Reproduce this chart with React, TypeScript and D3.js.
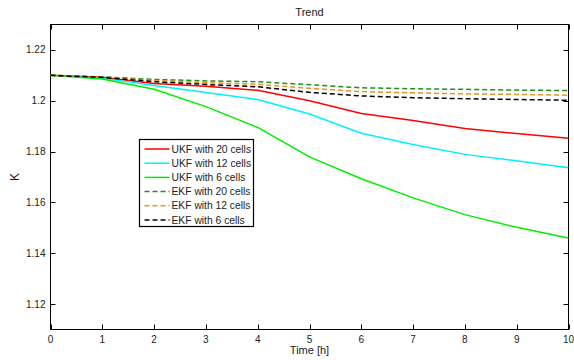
import React, { useEffect, useRef } from 'react';
import * as d3 from 'd3';

// time axis (hours)
const hours = [0, 1, 2, 3, 4, 5, 6, 7, 8, 9, 10];

// estimated K for each filter
const ukf20 = [1.21, 1.2092, 1.2068, 1.2057, 1.2041, 1.2, 1.195, 1.1922, 1.1891, 1.1871, 1.1852];
const ukf12 = [1.21, 1.2089, 1.206, 1.2032, 1.2005, 1.1948, 1.1872, 1.1828, 1.1789, 1.1764, 1.1736];
const ukf6 = [1.21, 1.2086, 1.2045, 1.1977, 1.1895, 1.1779, 1.1693, 1.1618, 1.1552, 1.1502, 1.146];
const ekf20 = [1.21, 1.2094, 1.2084, 1.2078, 1.2075, 1.2063, 1.2051, 1.2047, 1.2045, 1.2042, 1.204];
const ekf12 = [1.21, 1.2093, 1.208, 1.2071, 1.2065, 1.2049, 1.2036, 1.2031, 1.2027, 1.2025, 1.2022];
const ekf6 = [1.21, 1.2092, 1.2075, 1.2064, 1.2055, 1.2033, 1.2019, 1.2012, 1.2008, 1.2005, 1.2002];

const seriesNames = [
  'UKF with 20 cells', 'UKF with 12 cells', 'UKF with 6 cells',
  'EKF with 20 cells', 'EKF with 12 cells', 'EKF with 6 cells'
];
const seriesValues = [ukf20, ukf12, ukf6, ekf20, ekf12, ekf6];
const seriesColors = ['#ff0000', '#00f0ff', '#00ee00', '#1f8f1f', '#ec9024', '#000000'];
const seriesDashed = [false, false, false, true, true, true];

const xTicks = [0, 1, 2, 3, 4, 5, 6, 7, 8, 9, 10];
const yTicks = [1.12, 1.14, 1.16, 1.18, 1.2, 1.22];

const App = () => {
  const ref = useRef<SVGSVGElement>(null);

  useEffect(() => {
    const width = 574;
    const height = 360;
    const left = 50.5, right = 568.5, top = 24.5, bottom = 329.5;
    const font = 'Liberation Sans, Arial, sans-serif';

    const svg = d3.select(ref.current);
    svg.selectAll('*').remove();

    const x = d3.scaleLinear().domain([0, 10]).range([left, right]);
    const y = d3.scaleLinear().domain([1.11, 1.23]).range([bottom, top]);

    // plot box
    svg.append('rect')
      .attr('x', left).attr('y', top)
      .attr('width', right - left).attr('height', bottom - top)
      .style('fill', '#fff').style('stroke', '#000').style('stroke-width', 1);

    // clip lines to the axes
    svg.append('clipPath').attr('id', 'plotclip')
      .append('rect')
      .attr('x', left).attr('y', top)
      .attr('width', right - left).attr('height', bottom - top);

    const tickLen = 5;
    const fmt = (d: number) => String(+d.toFixed(2));

    // x ticks (bottom and top, inward)
    xTicks.forEach(t => {
      const px = Math.round(x(t)) + 0.5;
      svg.append('line').attr('x1', px).attr('x2', px).attr('y1', bottom).attr('y2', bottom - tickLen)
        .style('stroke', '#000');
      svg.append('line').attr('x1', px).attr('x2', px).attr('y1', top).attr('y2', top + tickLen)
        .style('stroke', '#000');
      svg.append('text')
        .attr('x', x(t)).attr('y', bottom + 13)
        .attr('text-anchor', 'middle')
        .style('font-family', font).style('font-size', '10px').style('fill', '#222')
        .text(fmt(t));
    });

    // y ticks (left and right, inward)
    yTicks.forEach(v => {
      const py = Math.round(y(v)) + 0.5;
      svg.append('line').attr('x1', left).attr('x2', left + tickLen).attr('y1', py).attr('y2', py)
        .style('stroke', '#000');
      svg.append('line').attr('x1', right).attr('x2', right - tickLen).attr('y1', py).attr('y2', py)
        .style('stroke', '#000');
      svg.append('text')
        .attr('x', left - 5).attr('y', y(v))
        .attr('dy', '0.35em')
        .attr('text-anchor', 'end')
        .style('font-family', font).style('font-size', '10px').style('fill', '#222')
        .text(fmt(v));
    });

    // series lines
    const line = d3.line<number>()
      .x((d, i) => x(hours[i]))
      .y(d => y(d));

    const plot = svg.append('g').attr('clip-path', 'url(#plotclip)');
    seriesValues.forEach((vals, k) => {
      plot.append('path')
        .datum(vals)
        .attr('d', line)
        .style('fill', 'none')
        .style('stroke', seriesColors[k])
        .style('stroke-width', 1.5)
        .style('stroke-linejoin', 'round')
        .style('stroke-dasharray', seriesDashed[k] ? '5,3' : null);
    });

    // legend
    const lgX = 139.5, lgY = 139.5, lgW = 114, lgH = 87, rowH = 14.2;
    const legend = svg.append('g');
    legend.append('rect')
      .attr('x', lgX).attr('y', lgY).attr('width', lgW).attr('height', lgH)
      .style('fill', '#fff').style('stroke', '#000').style('stroke-width', 1.2);
    seriesNames.forEach((name, k) => {
      const ry = lgY + 9.5 + k * rowH;
      legend.append('line')
        .attr('x1', lgX + 5).attr('x2', lgX + 30).attr('y1', ry).attr('y2', ry)
        .style('stroke', seriesColors[k])
        .style('stroke-width', 1.5)
        .style('stroke-dasharray', seriesDashed[k] ? '5,3' : null);
      legend.append('text')
        .attr('x', lgX + 32).attr('y', ry).attr('dy', '0.35em')
        .style('font-family', font).style('font-size', '10.3px').style('fill', '#222')
        .text(name);
    });

    // titles
    svg.append('text')
      .attr('x', (left + right) / 2).attr('y', 16)
      .attr('text-anchor', 'middle')
      .style('font-family', font).style('font-size', '11px').style('fill', '#222')
      .text('Trend');
    svg.append('text')
      .attr('x', (left + right) / 2).attr('y', 354)
      .attr('text-anchor', 'middle')
      .style('font-family', font).style('font-size', '11px').style('fill', '#222')
      .text('Time [h]');
    svg.append('text')
      .attr('transform', `translate(19, ${(top + bottom) / 2}) rotate(-90)`)
      .attr('text-anchor', 'middle')
      .style('font-family', font).style('font-size', '12px').style('fill', '#222')
      .text('K');

    svg.attr('width', width).attr('height', height);
  }, []);

  return (
    <svg
      ref={ref}
      width={574}
      height={360}
      style={{ position: 'absolute', left: 0, top: 0, background: '#fff' }}
    />
  );
};

export default App;
